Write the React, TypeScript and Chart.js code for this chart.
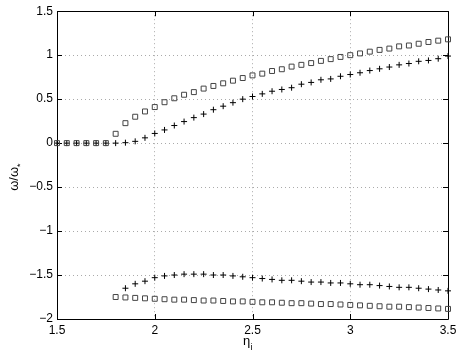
import React, { useEffect, useRef } from "react";
import { Chart, registerables } from "chart.js";

Chart.register(...registerables);

// eta_i values (x axis)
const etaValues = [
  1.5, 1.55, 1.6, 1.65, 1.7, 1.75, 1.8, 1.85, 1.9, 1.95,
  2.0, 2.05, 2.1, 2.15, 2.2, 2.25, 2.3, 2.35, 2.4, 2.45,
  2.5, 2.55, 2.6, 2.65, 2.7, 2.75, 2.8, 2.85, 2.9, 2.95,
  3.0, 3.05, 3.1, 3.15, 3.2, 3.25, 3.3, 3.35, 3.4, 3.45, 3.5,
];

// upper branch, square markers
const upperSquare = [
  0, 0, 0, 0, 0, 0, 0.106, 0.227, 0.3, 0.36,
  0.41, 0.465, 0.51, 0.55, 0.58, 0.62, 0.65, 0.68, 0.71, 0.74,
  0.77, 0.79, 0.82, 0.84, 0.87, 0.89, 0.91, 0.935, 0.955, 0.98,
  1.0, 1.02, 1.04, 1.06, 1.075, 1.1, 1.11, 1.13, 1.15, 1.165, 1.18,
];

// upper branch, plus markers
const upperPlus = [
  0, 0, 0, 0, 0, 0, 0, 0.005, 0.02, 0.06,
  0.11, 0.15, 0.2, 0.245, 0.29, 0.33, 0.38, 0.42, 0.46, 0.5,
  0.53, 0.56, 0.59, 0.61, 0.63, 0.67, 0.69, 0.72, 0.73, 0.76,
  0.78, 0.8, 0.825, 0.845, 0.865, 0.89, 0.905, 0.93, 0.94, 0.96, 0.99,
];

// lower branch, plus markers
const lowerPlus = [
  null, null, null, null, null, null, null, -1.65, -1.6, -1.57,
  -1.53, -1.51, -1.5, -1.49, -1.49, -1.49, -1.5, -1.5, -1.51, -1.52,
  -1.53, -1.54, -1.55, -1.56, -1.56, -1.57, -1.58, -1.58, -1.59, -1.59,
  -1.6, -1.61, -1.61, -1.62, -1.63, -1.64, -1.64, -1.65, -1.66, -1.67, -1.68,
];

// lower branch, square markers
const lowerSquare = [
  null, null, null, null, null, null, -1.75, -1.755, -1.76, -1.765,
  -1.77, -1.775, -1.78, -1.78, -1.785, -1.79, -1.79, -1.795, -1.8, -1.8,
  -1.805, -1.81, -1.81, -1.815, -1.82, -1.82, -1.825, -1.83, -1.83, -1.835,
  -1.84, -1.845, -1.85, -1.855, -1.86, -1.86, -1.865, -1.87, -1.875, -1.88, -1.885,
];

const xTicks = [1.5, 2, 2.5, 3, 3.5];
const yTicks = [-2, -1.5, -1, -0.5, 0, 0.5, 1, 1.5];

const FONT = "'Liberation Sans', Arial, Helvetica, sans-serif";

function toPoints(ys: (number | null)[]) {
  const pts: { x: number; y: number }[] = [];
  ys.forEach((y, i) => {
    if (y !== null) pts.push({ x: etaValues[i], y });
  });
  return pts;
}

function fmt(v: number) {
  const s = String(Math.abs(v));
  return v < 0 ? "\u2212" + s : s;
}

export default function App() {
  const ref = useRef<HTMLCanvasElement>(null);

  useEffect(() => {
    const canvas = ref.current;
    if (!canvas) return;

    const framePlugin = {
      id: "frame",
      beforeDatasetsDraw(chart: any) {
        const { ctx, chartArea } = chart;
        const { left, right, top, bottom } = chartArea;
        const xs = chart.scales.x;
        const ys = chart.scales.y;
        ctx.save();
        ctx.strokeStyle = "#000";
        ctx.lineWidth = 1;
        ctx.setLineDash([]);
        ctx.beginPath();
        ctx.rect(Math.round(left) + 0.5, Math.round(top) + 0.5, Math.round(right - left), Math.round(bottom - top));
        const tl = 5;
        xTicks.forEach((t) => {
          const px = Math.round(xs.getPixelForValue(t)) + 0.5;
          ctx.moveTo(px, bottom);
          ctx.lineTo(px, bottom - tl);
          ctx.moveTo(px, top);
          ctx.lineTo(px, top + tl);
        });
        yTicks.forEach((t) => {
          const py = Math.round(ys.getPixelForValue(t)) + 0.5;
          ctx.moveTo(left, py);
          ctx.lineTo(left + tl, py);
          ctx.moveTo(right, py);
          ctx.lineTo(right - tl, py);
        });
        ctx.stroke();
        ctx.restore();
      },
      afterDraw(chart: any) {
        const { ctx, chartArea } = chart;
        ctx.save();
        ctx.fillStyle = "#000";
        // x title: eta with subscript i
        const cx = (chartArea.left + chartArea.right) / 2;
        ctx.font = `13px ${FONT}`;
        ctx.textBaseline = "alphabetic";
        ctx.textAlign = "left";
        const etaW = ctx.measureText("\u03b7").width;
        ctx.font = `9px ${FONT}`;
        const subW = ctx.measureText("i").width;
        const startX = cx - (etaW + subW) / 2 - 5;
        ctx.font = `13px ${FONT}`;
        ctx.fillText("\u03b7", startX, 345);
        ctx.font = `9px ${FONT}`;
        ctx.fillText("i", startX + etaW + 0.5, 350);

        // y title: omega / omega_*
        const cy = (chartArea.top + chartArea.bottom) / 2 + 12;
        ctx.translate(18, cy);
        ctx.rotate(-Math.PI / 2);
        ctx.font = `13px ${FONT}`;
        const main = "\u03c9/\u03c9";
        const mw = ctx.measureText(main).width;
        ctx.font = `9px ${FONT}`;
        const sw = ctx.measureText("*").width;
        const sx = -(mw + sw) / 2;
        ctx.font = `13px ${FONT}`;
        ctx.fillText(main, sx, 0);
        ctx.font = `9px ${FONT}`;
        ctx.fillText("*", sx + mw, 5);
        ctx.restore();
      },
    };

    const chart = new Chart(canvas, {
      type: "scatter",
      data: {
        datasets: [
          {
            label: "upper square",
            data: toPoints(upperSquare),
            pointStyle: "rect",
            radius: 3.5,
            borderColor: "#444",
            backgroundColor: "rgba(0,0,0,0)",
            borderWidth: 1,
            clip: false as any,
          },
          {
            label: "upper plus",
            data: toPoints(upperPlus),
            pointStyle: "cross",
            radius: 3,
            borderColor: "#000",
            backgroundColor: "#000",
            borderWidth: 1,
            clip: false as any,
          },
          {
            label: "lower plus",
            data: toPoints(lowerPlus),
            pointStyle: "cross",
            radius: 3,
            borderColor: "#000",
            backgroundColor: "#000",
            borderWidth: 1,
            clip: false as any,
          },
          {
            label: "lower square",
            data: toPoints(lowerSquare),
            pointStyle: "rect",
            radius: 3.5,
            borderColor: "#444",
            backgroundColor: "rgba(0,0,0,0)",
            borderWidth: 1,
            clip: false as any,
          },
        ],
      },
      options: {
        animation: false,
        responsive: false,
        devicePixelRatio: 1,
        layout: { padding: { top: 11, right: 13, left: 0, bottom: 0 } },
        plugins: {
          legend: { display: false },
          tooltip: { enabled: false },
        },
        events: [],
        scales: {
          x: {
            type: "linear",
            min: 1.5,
            max: 3.5,
            afterFit: (s: any) => {
              s.height = 41;
            },
            afterBuildTicks: (s: any) => {
              s.ticks = xTicks.map((v) => ({ value: v }));
            },
            ticks: {
              color: "#000",
              padding: 4,
              font: { family: FONT, size: 12 },
              callback: (v: any) => fmt(Number(v)),
            },
            grid: { color: "#aaa", lineWidth: 1, drawTicks: false },
            border: { display: false, dash: [1, 3] },
          },
          y: {
            type: "linear",
            min: -2,
            max: 1.5,
            afterFit: (s: any) => {
              s.width = 57;
            },
            afterBuildTicks: (s: any) => {
              s.ticks = yTicks.map((v) => ({ value: v }));
            },
            ticks: {
              color: "#000",
              padding: 4,
              font: { family: FONT, size: 12 },
              callback: (v: any) => fmt(Number(v)),
            },
            grid: { color: "#aaa", lineWidth: 1, drawTicks: false },
            border: { display: false, dash: [1, 3] },
          },
        },
      },
      plugins: [framePlugin],
    });

    return () => chart.destroy();
  }, []);

  return (
    <div style={{ position: "absolute", left: 0, top: 0, width: 461, height: 360, background: "#fff" }}>
      <canvas ref={ref} width={461} height={360} style={{ width: 461, height: 360, display: "block" }} />
    </div>
  );
}
